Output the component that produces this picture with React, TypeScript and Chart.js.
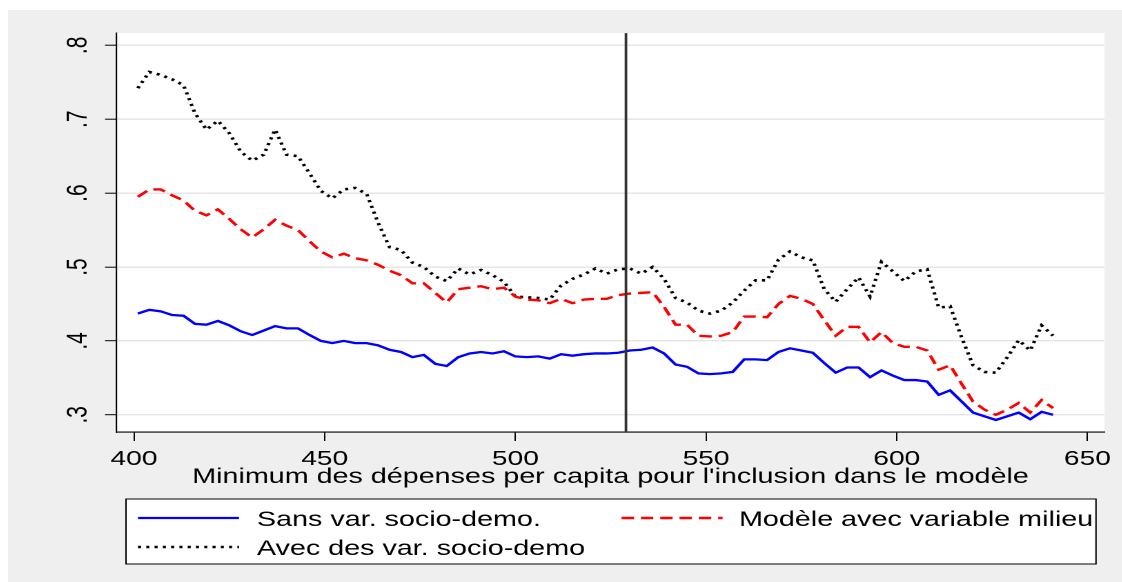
import React, { useEffect, useRef } from 'react';
import { Chart, registerables } from 'chart.js';

Chart.register(...registerables);

// ---------- data ----------
const X_VALUES = [
  401, 404, 407, 410, 413, 416, 419, 422, 425, 428, 431, 434, 437, 440, 443, 446, 449, 452, 455, 458,
  461, 464, 467, 470, 473, 476, 479, 482, 485, 488, 491, 494, 497, 500, 503, 506, 509, 512, 515, 518,
  521, 524, 527, 530, 533, 536, 539, 542, 545, 548, 551, 554, 557, 560, 563, 566, 569, 572, 575, 578,
  581, 584, 587, 590, 593, 596, 599, 602, 605, 608, 611, 614, 617, 620, 623, 626, 629, 632, 635, 638, 641,
];

const SANS_VAR = [
  0.437, 0.442, 0.440, 0.435, 0.434, 0.423, 0.422, 0.427, 0.421, 0.413, 0.408, 0.414, 0.420, 0.417, 0.417, 0.408, 0.400, 0.397, 0.400, 0.397,
  0.397, 0.394, 0.388, 0.385, 0.378, 0.381, 0.369, 0.366, 0.378, 0.383, 0.385, 0.383, 0.386, 0.379, 0.378, 0.379, 0.376, 0.382, 0.380, 0.382,
  0.383, 0.383, 0.384, 0.387, 0.388, 0.391, 0.383, 0.368, 0.365, 0.356, 0.355, 0.356, 0.358, 0.375, 0.375, 0.374, 0.385, 0.390, 0.387, 0.384,
  0.370, 0.357, 0.364, 0.364, 0.351, 0.360, 0.353, 0.347, 0.347, 0.345, 0.327, 0.333, 0.318, 0.303, 0.298, 0.293, 0.298, 0.303, 0.294, 0.304, 0.300,
];

const MODELE_MILIEU = [
  0.595, 0.605, 0.605, 0.597, 0.590, 0.576, 0.570, 0.578, 0.565, 0.551, 0.540, 0.551, 0.564, 0.556, 0.550, 0.535, 0.521, 0.513, 0.518, 0.512,
  0.509, 0.503, 0.495, 0.489, 0.478, 0.478, 0.465, 0.452, 0.470, 0.472, 0.474, 0.470, 0.472, 0.460, 0.456, 0.455, 0.451, 0.457, 0.451, 0.456,
  0.457, 0.457, 0.462, 0.464, 0.465, 0.466, 0.446, 0.422, 0.422, 0.407, 0.406, 0.407, 0.412, 0.433, 0.433, 0.432, 0.450, 0.461, 0.457, 0.450,
  0.428, 0.407, 0.419, 0.419, 0.398, 0.412, 0.397, 0.392, 0.392, 0.387, 0.361, 0.367, 0.342, 0.318, 0.307, 0.300, 0.307, 0.316, 0.303, 0.320, 0.309,
];

const AVEC_VAR = [
  0.742, 0.764, 0.760, 0.754, 0.746, 0.708, 0.686, 0.698, 0.681, 0.656, 0.644, 0.652, 0.686, 0.652, 0.650, 0.627, 0.603, 0.593, 0.605, 0.607,
  0.599, 0.560, 0.527, 0.523, 0.506, 0.500, 0.487, 0.481, 0.498, 0.490, 0.496, 0.489, 0.480, 0.460, 0.459, 0.458, 0.456, 0.475, 0.484, 0.490,
  0.498, 0.491, 0.497, 0.498, 0.491, 0.500, 0.484, 0.458, 0.452, 0.441, 0.437, 0.441, 0.452, 0.468, 0.482, 0.482, 0.510, 0.521, 0.513, 0.509,
  0.470, 0.453, 0.470, 0.486, 0.460, 0.507, 0.494, 0.481, 0.494, 0.497, 0.445, 0.447, 0.405, 0.367, 0.358, 0.357, 0.378, 0.401, 0.387, 0.421, 0.407,
];

const X_TICKS = [400, 450, 500, 550, 600, 650];
const Y_TICKS = [0.3, 0.4, 0.5, 0.6, 0.7, 0.8];
const CUTOFF = 529;
const X_TITLE = "Minimum des dépenses per capita pour l'inclusion dans le modèle";
const SERIES_LABELS = ['Sans var. socio-demo.', 'Modèle avec variable milieu', 'Avec des var. socio-demo'];

// ---------- layout (internal units; the figure is stretched horizontally) ----------
const SX = 1.38;
const FULL_W = 1114;
const FULL_H = 572;
const W0 = FULL_W / SX;
const FONT = "'Liberation Sans', Arial, Helvetica, sans-serif";
const TEXT_SIZE = 20.8;
const TICK_SIZE = 20.4;

const LEGEND_BOX = { x: 85.5, y: 489, w: 702.9, h: 65 };
const LEGEND_SLOTS = [
  { x0: 94.2, x1: 167.4, tx: 180.4, ly: 508, ty: 516 },
  { x0: 444.6, x1: 517.8, tx: 529.7, ly: 508, ty: 516 },
  { x0: 94.2, x1: 167.4, tx: 180.4, ly: 537, ty: 545 },
];

const plotBgPlugin = {
  id: 'plotBg',
  beforeDraw(chart: any) {
    const { ctx, chartArea: a } = chart;
    ctx.save();
    ctx.fillStyle = '#ffffff';
    ctx.fillRect(a.left, a.top, a.right - a.left, a.bottom - a.top);
    ctx.restore();
  },
};

const cutoffPlugin = {
  id: 'cutoff',
  afterDatasetsDraw(chart: any) {
    const { ctx, chartArea: a } = chart;
    const x = chart.scales.x.getPixelForValue(CUTOFF);
    ctx.save();
    ctx.strokeStyle = '#333333';
    ctx.lineWidth = 1.9;
    ctx.beginPath();
    ctx.moveTo(x, a.top);
    ctx.lineTo(x, a.bottom);
    ctx.stroke();
    ctx.restore();
  },
};

const boxLegendPlugin = {
  id: 'boxLegend',
  afterDraw(chart: any) {
    const ctx = chart.ctx;
    ctx.save();
    ctx.fillStyle = '#ffffff';
    ctx.fillRect(LEGEND_BOX.x, LEGEND_BOX.y, LEGEND_BOX.w, LEGEND_BOX.h);
    ctx.strokeStyle = '#000000';
    ctx.lineWidth = 1;
    ctx.strokeRect(LEGEND_BOX.x, LEGEND_BOX.y, LEGEND_BOX.w, LEGEND_BOX.h);
    chart.data.datasets.forEach((ds: any, i: number) => {
      const s = LEGEND_SLOTS[i];
      ctx.beginPath();
      ctx.setLineDash(ds.borderDash || []);
      ctx.strokeStyle = ds.borderColor;
      ctx.lineWidth = ds.borderWidth;
      ctx.moveTo(s.x0, s.ly);
      ctx.lineTo(s.x1, s.ly);
      ctx.stroke();
      ctx.setLineDash([]);
      ctx.fillStyle = '#000000';
      ctx.font = `${TEXT_SIZE}px ${FONT}`;
      ctx.textAlign = 'left';
      ctx.textBaseline = 'alphabetic';
      ctx.fillText(ds.label, s.tx, s.ty);
    });
    ctx.restore();
  },
};

export default function App() {
  const canvasRef = useRef<HTMLCanvasElement | null>(null);

  useEffect(() => {
    if (!canvasRef.current) return;
    const toPoints = (ys: number[]) => X_VALUES.map((x, i) => ({ x, y: ys[i] }));
    const chart = new Chart(canvasRef.current, {
      type: 'line',
      data: {
        datasets: [
          {
            label: SERIES_LABELS[0],
            data: toPoints(SANS_VAR),
            borderColor: '#0000ff',
            borderWidth: 2.3,
            pointRadius: 0,
            tension: 0,
          },
          {
            label: SERIES_LABELS[1],
            data: toPoints(MODELE_MILIEU),
            borderColor: '#ff0000',
            borderWidth: 2.4,
            borderDash: [9, 5],
            pointRadius: 0,
            tension: 0,
          },
          {
            label: SERIES_LABELS[2],
            data: toPoints(AVEC_VAR),
            borderColor: '#000000',
            borderWidth: 2.6,
            borderDash: [2.2, 3.8],
            pointRadius: 0,
            tension: 0,
          },
        ],
      },
      options: {
        animation: false,
        responsive: true,
        maintainAspectRatio: false,
        devicePixelRatio: 2,
        layout: { padding: { top: 21, right: 12.6, bottom: 90, left: 0 } },
        plugins: {
          legend: { display: false },
          tooltip: { enabled: false },
          title: { display: false },
        },
        scales: {
          x: {
            type: 'linear',
            min: 395.4,
            max: 654.5,
            afterBuildTicks: (scale: any) => {
              scale.ticks = X_TICKS.map((v) => ({ value: v }));
            },
            afterFit: (scale: any) => {
              scale.height = 60;
            },
            ticks: {
              color: '#000',
              font: { family: FONT, size: TICK_SIZE },
              padding: 6,
              maxRotation: 0,
              minRotation: 0,
              autoSkip: false,
              callback: (v: any) => String(v),
            },
            grid: {
              drawOnChartArea: false,
              drawTicks: true,
              tickLength: 9,
              tickColor: '#000',
              tickWidth: 1,
            },
            border: { display: true, color: '#000', width: 1.1 },
            title: {
              display: true,
              text: X_TITLE,
              color: '#000',
              font: { family: FONT, size: TEXT_SIZE },
              padding: { top: 0, bottom: 2.5 },
            },
          },
          y: {
            type: 'linear',
            min: 0.2767,
            max: 0.8166,
            afterBuildTicks: (scale: any) => {
              scale.ticks = Y_TICKS.map((v) => ({ value: v }));
            },
            afterFit: (scale: any) => {
              scale.width = 78.6;
            },
            ticks: {
              color: '#000',
              font: { family: FONT, size: 21 },
              padding: 10.5,
              minRotation: 90,
              maxRotation: 90,
              crossAlign: 'center',
              autoSkip: false,
              callback: (v: any) => '.' + Math.round(Number(v) * 10),
            },
            grid: {
              drawOnChartArea: true,
              color: '#e4e4e4',
              lineWidth: 1.4,
              drawTicks: true,
              tickLength: 8.3,
              tickColor: '#000',
              tickWidth: 1,
            },
            border: { display: true, color: '#000', width: 1.1 },
          },
        },
      },
      plugins: [plotBgPlugin, cutoffPlugin, boxLegendPlugin],
    } as any);
    return () => chart.destroy();
  }, []);

  return (
    <div
      style={{
        position: 'fixed',
        left: 8,
        top: 10,
        width: FULL_W,
        height: FULL_H,
        background: '#efefef',
        overflow: 'hidden',
      }}
    >
      <div
        style={{
          position: 'absolute',
          left: 0,
          top: 0,
          width: W0,
          height: FULL_H,
          transform: `scaleX(${SX})`,
          transformOrigin: '0 0',
        }}
      >
        <canvas ref={canvasRef} />
      </div>
    </div>
  );
}
